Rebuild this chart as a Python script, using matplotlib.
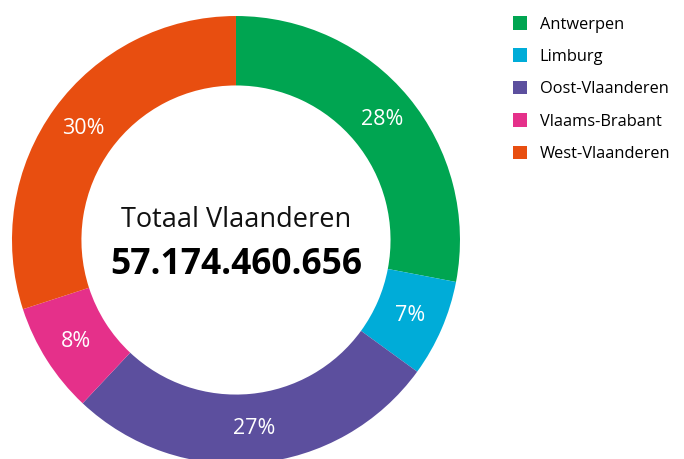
import numpy as np
import matplotlib.pyplot as plt

plt.rcParams['font.family'] = ['Open Sans', 'DejaVu Sans']

# data
provincies = ['Antwerpen', 'Limburg', 'Oost-Vlaanderen', 'Vlaams-Brabant', 'West-Vlaanderen']
aandeel = [28, 7, 27, 8, 30]
kleuren = ['#00a551', '#00acd8', '#5c4f9e', '#e5308a', '#e84e10']
totaal_label = 'Totaal Vlaanderen'
totaal = '57.174.460.656'

fig = plt.figure(figsize=(6.84, 4.59), dpi=100)
ax = fig.add_axes([0.0175, -0.0109, 0.655, 0.976])

wedges, texts = ax.pie(aandeel, colors=kleuren, startangle=90, counterclock=False,
                       radius=1, wedgeprops=dict(width=0.31, edgecolor='none'))

# percentages midden in de ring
for w, v in zip(wedges, aandeel):
    ang = np.deg2rad((w.theta1 + w.theta2) / 2)
    r = 1 - 0.31 / 2
    ax.text(r * np.cos(ang), r * np.sin(ang), f'{v}%', color='white',
            ha='center', va='center', fontsize=15.5)

ax.text(0, 0.09, totaal_label, ha='center', va='center', fontsize=19.5, color='#111111')
ax.text(0, -0.11, totaal, ha='center', va='center', fontsize=25.5, fontweight='bold', color='black')

ax.set_xlim(-1, 1)
ax.set_ylim(-1, 1)
ax.set_aspect('equal')
ax.axis('off')

fig.legend(wedges, provincies, loc='upper left', bbox_to_anchor=(0.728, 0.997),
           frameon=False, fontsize=11.8, handlelength=0.9, handleheight=0.9,
           handletextpad=0.75, labelspacing=0.97)

fig.savefig('out.png', dpi=100)
